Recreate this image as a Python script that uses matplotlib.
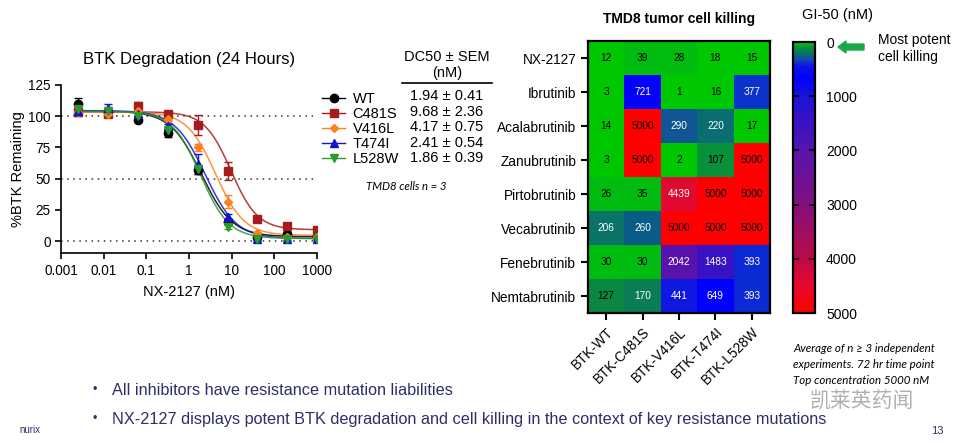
import matplotlib
matplotlib.use("Agg")
import matplotlib.pyplot as plt
import numpy as np
from matplotlib.colors import LinearSegmentedColormap, Normalize
from matplotlib.lines import Line2D
from matplotlib.patches import FancyArrow

plt.rcParams['font.family'] = ['Liberation Sans', 'DejaVu Sans']

# ---- dose response data ----
conc = [0.00256, 0.0128, 0.064, 0.32, 1.6, 8, 40, 200, 1000]
variants = ['WT', 'C481S', 'V416L', 'T474I', 'L528W']
wt = [110, 103.5, 97, 86.5, 57, 15.5, 3.5, 6, 4]
c481s = [103, 101.5, 108.5, 102, 93, 56, 18, 12, 9]
v416l = [103, 102, 104, 97.5, 75, 31.5, 6.5, 3.5, 3.5]
t474i = [104, 106.5, 102, 92, 62, 19.5, 2, 1.5, 1.5]
l528w = [106, 104, 100, 89, 58, 11.5, 2, 1.5, 1.5]
wt_err = [4.5, 2.5, 2, 3, 3, 2, 1, 1, 1]
c481s_err = [3, 2, 3, 2.5, 8, 7, 2, 2, 1]
v416l_err = [2, 2, 2, 1.5, 3, 5, 1, 1, 1]
t474i_err = [2, 3.5, 2, 2, 8, 2, 1, 1, 1]
l528w_err = [2, 2, 2, 2, 2, 2, 1, 1, 1]
# 4PL fit parameters
tops = [104, 103.5, 103.5, 104.5, 104]
bottoms = [3.5, 9, 4.5, 2, 2]
dc50 = [1.94, 9.68, 4.17, 2.41, 1.86]
dc50_sem = [0.41, 2.36, 0.75, 0.54, 0.39]
hills = [1.2, 1.4, 1.3, 1.2, 1.3]

colors = ['black', '#a61c1c', '#ff7f1e', '#1414d0', '#2a9a2a']
markers = ['o', 's', 'D', '^', 'v']
msizes = [6, 6, 4.5, 6, 6]

# ---- heatmap data ----
drugs = ['NX-2127', 'Ibrutinib', 'Acalabrutinib', 'Zanubrutinib', 'Pirtobrutinib',
         'Vecabrutinib', 'Fenebrutinib', 'Nemtabrutinib']
mutants = ['BTK-WT', 'BTK-C481S', 'BTK-V416L', 'BTK-T474I', 'BTK-L528W']
gi50 = np.array([
    [12, 39, 28, 18, 15],
    [3, 721, 1, 16, 377],
    [14, 5000, 290, 220, 17],
    [3, 5000, 2, 107, 5000],
    [26, 35, 4439, 5000, 5000],
    [206, 260, 5000, 5000, 5000],
    [30, 30, 2042, 1483, 393],
    [127, 170, 441, 649, 393],
])

W, H = 960, 444
fig = plt.figure(figsize=(W / 100, H / 100), dpi=100)

def box(l, t, r, b):
    return [l / W, 1 - b / H, (r - l) / W, (b - t) / H]

# ---------- dose response ----------
ax = fig.add_axes(box(61, 85, 317, 253.5))
xs = np.logspace(np.log10(0.00256), 3, 300)
series = [wt, c481s, v416l, t474i, l528w]
errs = [wt_err, c481s_err, v416l_err, t474i_err, l528w_err]
for i in range(5):
    fit = bottoms[i] + (tops[i] - bottoms[i]) / (1 + (xs / dc50[i]) ** hills[i])
    ax.plot(xs, fit, color=colors[i], lw=1.1, alpha=0.85, zorder=2)
    ax.errorbar(conc, series[i], yerr=errs[i], fmt=markers[i], color=colors[i],
                ms=msizes[i], capsize=3, elinewidth=1, zorder=3)
for yv in [0, 50, 100]:
    ax.axhline(yv, color='#333333', ls=(0, (1, 3)), lw=1.1, zorder=1)
ax.set_xscale('log')
ax.set_xlim(0.001, 1000)
ax.set_ylim(-10, 125)
ax.set_xticks([0.001, 0.01, 0.1, 1, 10, 100, 1000])
ax.set_xticklabels(['0.001', '0.01', '0.1', '1', '10', '100', '1000'])
ax.minorticks_off()
ax.set_yticks([0, 25, 50, 75, 100, 125])
ax.tick_params(labelsize=9.8, width=1.2, length=4)
for s in ['top', 'right']:
    ax.spines[s].set_visible(False)
for s in ['left', 'bottom']:
    ax.spines[s].set_linewidth(1.2)
ax.set_xlabel('NX-2127 (nM)', fontsize=10.5, labelpad=5)
ax.set_ylabel('%BTK Remaining', fontsize=10.5, labelpad=2)
ax.set_title('BTK Degradation (24 Hours)', fontsize=12, pad=15)

handles = [Line2D([], [], color=colors[i], marker=markers[i], ms=msizes[i], lw=1)
           for i in range(5)]
fig.legend(handles, variants, loc='upper left', bbox_to_anchor=(316 / W, 1 - 86 / H),
           frameon=False, fontsize=10.5, handlelength=1.6, labelspacing=0.08,
           handletextpad=0.5, borderaxespad=0)

fig.text(447 / W, 1 - 57 / H, 'DC50 \u00b1 SEM', ha='center', va='center', fontsize=10.5)
fig.text(447 / W, 1 - 73 / H, '(nM)', ha='center', va='center', fontsize=10.5)
fig.add_artist(Line2D([402 / W, 492 / W], [1 - 83 / H] * 2, color='black', lw=1.2))
for i in range(5):
    fig.text(447 / W, 1 - (96 + i * 15.6) / H, f'{dc50[i]:.2f} \u00b1 {dc50_sem[i]:.2f}',
             ha='center', va='center', fontsize=10.5)
fig.text(406 / W, 1 - 186 / H, 'TMD8 cells n = 3', ha='center', va='center',
         fontsize=8.2, style='italic', family='Lato')

# ---------- heatmap ----------
nodes = [(0, '#00c800'), (40, '#00b020'), (110, '#0a8a40'), (170, '#0a7a5a'),
         (210, '#0a7070'), (260, '#0a5a8a'), (290, '#1a50a0'), (380, '#0a30d0'),
         (450, '#1010e8'), (650, '#0000ff'), (1000, '#1a14d8'), (1480, '#3a12c4'),
         (2040, '#5a14ac'), (3000, '#82107c'), (4000, '#bc0a48'), (4440, '#e00a30'),
         (5000, '#ff0000')]
cmap = LinearSegmentedColormap.from_list('gi50', [(v / 5000, c) for v, c in nodes])
norm = Normalize(0, 5000)

hx = fig.add_axes(box(588, 41, 770, 313))
im = hx.imshow(gi50, cmap=cmap, norm=norm, aspect='auto')
for r in range(gi50.shape[0]):
    for c in range(gi50.shape[1]):
        v = gi50[r, c]
        tc = 'white' if 150 < v < 4900 else 'black'
        hx.text(c, r, str(v), ha='center', va='center', fontsize=7.3, color=tc)
hx.set_xticks(range(len(mutants)))
hx.set_xticklabels(mutants, rotation=45, ha='right', rotation_mode='anchor', fontsize=9.8)
hx.set_yticks(range(len(drugs)))
hx.set_yticklabels(drugs, fontsize=9.8)
hx.tick_params(width=1.5, length=5)
for s in hx.spines.values():
    s.set_linewidth(1.6)
hx.set_title('TMD8 tumor cell killing', fontsize=10, fontweight='bold', pad=13)

cx = fig.add_axes(box(793, 42, 815, 313))
cb = fig.colorbar(im, cax=cx)
cb.set_ticks([0, 1000, 2000, 3000, 4000, 5000])
cx.invert_yaxis()
cb.outline.set_linewidth(1.6)
cx.tick_params(direction='in', length=4, width=1.2, left=True, right=True,
               labelsize=10, pad=8)
fig.text(837 / W, 1 - 15 / H, 'GI-50 (nM)', ha='center', va='center', fontsize=10.5)
fig.add_artist(FancyArrow(
    864 / W, 1 - 47 / H, -26 / W, 0, width=6 / H, head_width=12 / H, head_length=8 / W,
    length_includes_head=True, color='#1aa84a', transform=fig.transFigure))
fig.text(878 / W, 1 - 40 / H, 'Most potent', ha='left', va='center', fontsize=10)
fig.text(878 / W, 1 - 57 / H, 'cell killing', ha='left', va='center', fontsize=10)

for i, line in enumerate(['Average of n \u2265 3 independent',
                          'experiments. 72 hr time point',
                          'Top concentration 5000 nM']):
    fig.text(793 / W, 1 - (349 + i * 15.5) / H, line, ha='left', va='center',
             fontsize=8.3, style='italic', family='Lato')

# ---------- footer ----------
navy = '#2e2e6a'
fig.text(95 / W, 1 - 390 / H, '\u2022', ha='center', va='center', fontsize=9, color=navy)
fig.text(112 / W, 1 - 390 / H, 'All inhibitors have resistance mutation liabilities',
         ha='left', va='center', fontsize=11.7, color=navy)
fig.text(95 / W, 1 - 419 / H, '\u2022', ha='center', va='center', fontsize=9, color=navy)
fig.text(112 / W, 1 - 419 / H,
         'NX-2127 displays potent BTK degradation and cell killing in the context of key resistance mutations',
         ha='left', va='center', fontsize=11.7, color=navy)
fig.text(30 / W, 1 - 430 / H, 'nurix', ha='center', va='center', fontsize=7, color=navy)
fig.text(937 / W, 1 - 431 / H, '13', ha='center', va='center', fontsize=8, color=navy)
fig.text(862 / W, 1 - 402 / H, '\u51ef\u83b1\u82f1\u836f\u95fb', ha='center', va='center',
         fontsize=15, color='#b0b0b0', family=['Noto Sans CJK SC', 'DejaVu Sans'])

fig.savefig('out.png', dpi=100)
